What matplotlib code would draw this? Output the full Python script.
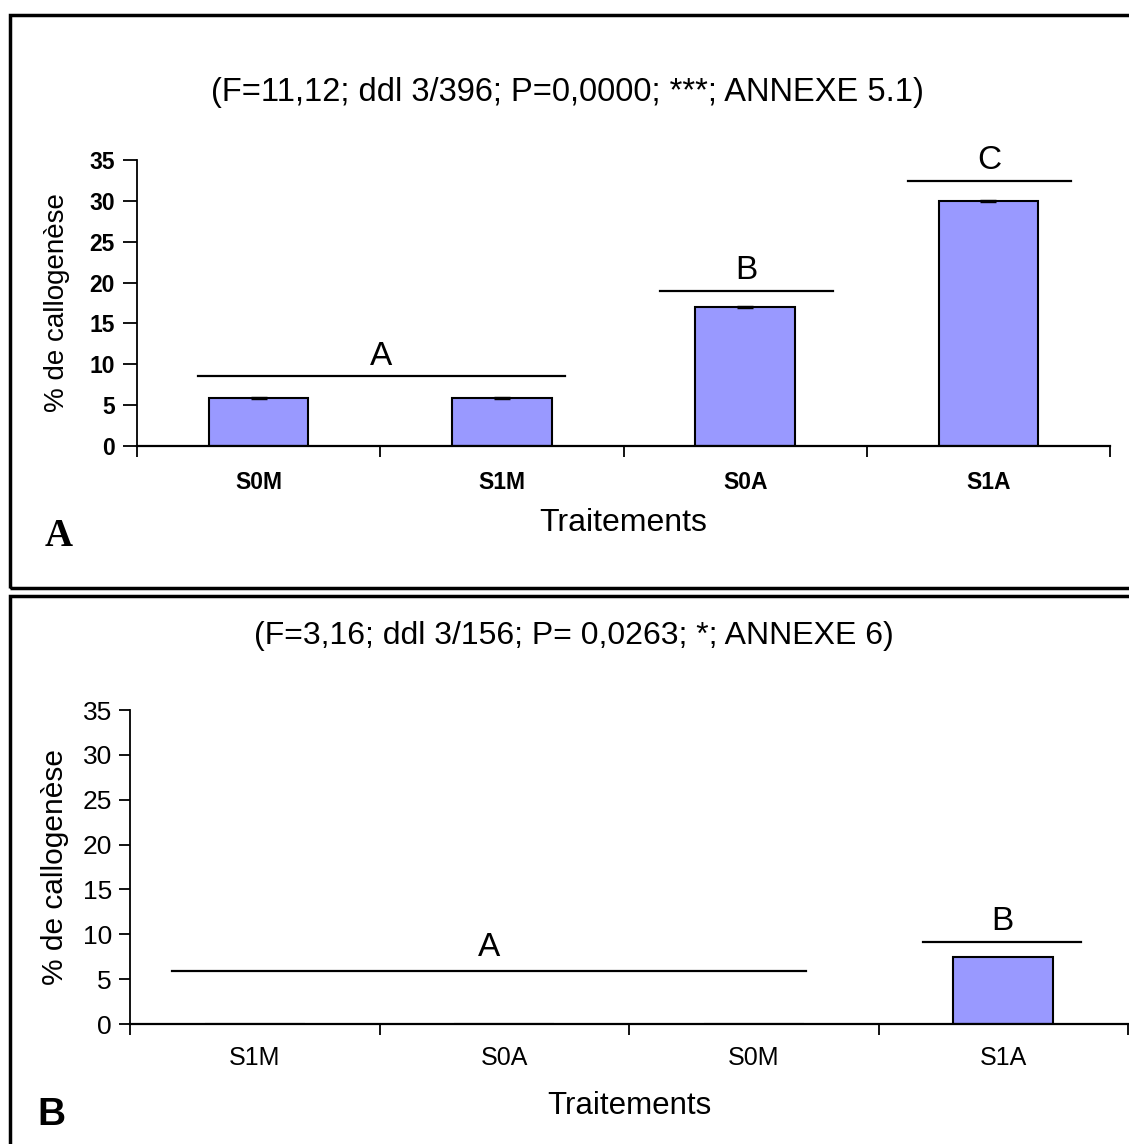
import matplotlib
matplotlib.use("Agg")
import matplotlib.pyplot as plt
from matplotlib.patches import Rectangle
import numpy as np

plt.rcParams['font.family'] = ['Liberation Sans', 'DejaVu Sans']

# Panel A data
cats_a = ["S0M", "S1M", "S0A", "S1A"]
vals_a = [5.9, 5.9, 17.0, 30.0]
err_a = [0.15, 0.15, 0.15, 0.15]
title_a = "(F=11,12; ddl 3/396; P=0,0000; ***; ANNEXE 5.1)"
# groups: (letter, x start, x end, line height, letter height)
groups_a = [("A", -0.25, 1.26, 8.6, 10.9),
            ("B", 1.65, 2.36, 19.0, 21.5),
            ("C", 2.67, 3.34, 32.4, 34.9)]

# Panel B data
cats_b = ["S1M", "S0A", "S0M", "S1A"]
vals_b = [0.0, 0.0, 0.0, 7.5]
title_b = "(F=3,16; ddl 3/156; P= 0,0263; *; ANNEXE 6)"
groups_b = [("A", -0.33, 2.21, 5.9, 8.5),
            ("B", 2.68, 3.31, 9.1, 11.4)]

ylabel = "% de callogenèse"
xlabel = "Traitements"
bar_color = "#9999FF"

W, H = 1129, 1144
fig = plt.figure(figsize=(W / 100, H / 100), dpi=100)


def px_axes(left, top, right, bottom):
    return fig.add_axes([left / W, 1 - bottom / H, (right - left) / W, (bottom - top) / H])


def style_axes(ax, cats, size, ysize, weight, xpad, ytick_len, ypad):
    n = len(cats)
    ax.set_xlim(-0.5, n - 0.5)
    ax.set_ylim(0, 35)
    ax.set_yticks(np.arange(0, 36, 5))
    ax.set_xticks(np.arange(-0.5, n, 1.0))
    ax.set_xticklabels([])
    ax.set_xticks(np.arange(n), minor=True)
    ax.set_xticklabels(cats, minor=True, fontsize=size, fontweight=weight)
    ax.tick_params(axis="x", which="major", direction="out", length=8, width=1.3)
    ax.tick_params(axis="x", which="minor", length=0, pad=xpad)
    ax.tick_params(axis="y", direction="out", length=ytick_len, width=1.3,
                   labelsize=ysize, pad=ypad)
    for lab in ax.get_yticklabels():
        lab.set_fontweight(weight)
    ax.spines["top"].set_visible(False)
    ax.spines["right"].set_visible(False)
    ax.spines["left"].set_linewidth(1.3)
    ax.spines["bottom"].set_linewidth(1.6)
    ax.patch.set_alpha(0)


def draw_groups(ax, groups, size):
    for letter, x0, x1, yl, yt in groups:
        ax.plot([x0, x1], [yl, yl], color="black", lw=1.6, clip_on=False)
        ax.text((x0 + x1) / 2, yt, letter, ha="center", va="center", fontsize=size)


# panel frames
fig.patches.append(Rectangle((10 / W, 1 - 588 / H), 1.2, (588 - 15) / H,
                             transform=fig.transFigure, fill=False, lw=2.5, ec="black"))
fig.patches.append(Rectangle((10 / W, -0.1), 1.2, 0.1 + (1144 - 596) / H,
                             transform=fig.transFigure, fill=False, lw=2.5, ec="black"))

# --- Panel A ---
ax1 = px_axes(137, 160, 1110, 446)
x = np.arange(len(cats_a))
ax1.bar(x, vals_a, width=0.41, color=bar_color, edgecolor="black", lw=1.5, zorder=2)
ax1.errorbar(x, vals_a, yerr=err_a, fmt="none", ecolor="black", capsize=6, lw=1.2, zorder=3)
style_axes(ax1, cats_a, 16.5, 16.5, "bold", xpad=18, ytick_len=10, ypad=6)
ax1.set_ylabel(ylabel, fontsize=20, labelpad=14)
ax1.set_xlabel(xlabel, fontsize=23, labelpad=10)
draw_groups(ax1, groups_a, 24)
fig.text(567 / W, 1 - 92 / H, title_a, ha="center", va="center", fontsize=23.5)
fig.text(45 / W, 1 - 536 / H, "A", ha="left", va="center", fontsize=28,
         fontweight="bold", family="Liberation Serif")

# --- Panel B ---
ax2 = px_axes(130, 710, 1128, 1024)
x = np.arange(len(cats_b))
ax2.bar(x, vals_b, width=0.40, color=bar_color, edgecolor="black", lw=1.5, zorder=2)
style_axes(ax2, cats_b, 18, 19, "normal", xpad=16, ytick_len=8, ypad=5)
ax2.set_ylabel(ylabel, fontsize=21.5, labelpad=10)
ax2.set_xlabel(xlabel, fontsize=22.5, labelpad=15)
draw_groups(ax2, groups_b, 24)
fig.text(574 / W, 1 - 636 / H, title_b, ha="center", va="center", fontsize=23)
fig.text(37 / W, 1 - 1115 / H, "B", ha="left", va="center", fontsize=28,
         fontweight="bold")

fig.savefig("out.png", dpi=100, facecolor="white")
